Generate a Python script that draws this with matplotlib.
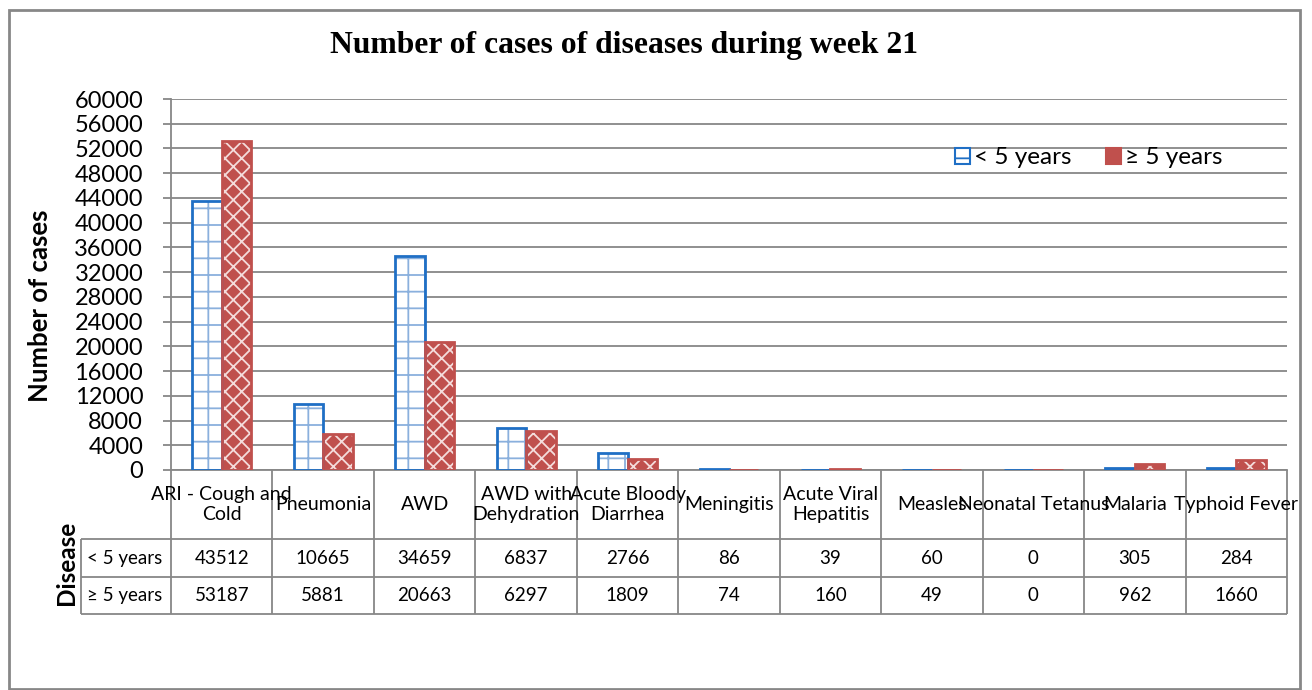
import matplotlib
matplotlib.use('Agg')
import matplotlib.pyplot as plt
import numpy as np
from matplotlib.patches import Patch, Rectangle

categories = ["ARI - Cough and\nCold", "Pneumonia", "AWD", "AWD with\nDehydration",
              "Acute Bloody\nDiarrhea", "Meningitis", "Acute Viral\nHepatitis",
              "Measles", "Neonatal Tetanus", "Malaria", "Typhoid Fever"]
under5 = [43512, 10665, 34659, 6837, 2766, 86, 39, 60, 0, 305, 284]
over5 = [53187, 5881, 20663, 6297, 1809, 74, 160, 49, 0, 962, 1660]
series_names = ["< 5 years", "≥ 5 years"]
yticks = list(range(0, 60001, 4000))
title = "Number of cases of diseases during week 21"

plt.rcParams['font.family'] = ['Lato', 'DejaVu Sans']
plt.rcParams['hatch.linewidth'] = 1.3

W, H = 1312, 690
fig = plt.figure(figsize=(W / 100, H / 100), dpi=100)
fig.patch.set_facecolor('white')


def fx(px):
    return px / W


def fy(py):
    return 1 - py / H


GRAY = '#878787'
BLUE = '#1F6FC5'
BLUE_H = '#8AB0DD'
RED = '#C0504D'

# outer frame
fig.add_artist(Rectangle((fx(9), fy(689)), fx(1300 - 9), (689 - 10) / H,
                         transform=fig.transFigure, fill=False,
                         edgecolor=GRAY, linewidth=2))

L, R, T, B = 171, 1287, 99, 470
ax = fig.add_axes([fx(L), fy(B), fx(R - L), (B - T) / H])
x = np.arange(len(categories))
bw = 0.29

ax.bar(x - bw / 2, under5, bw, color='white', edgecolor=BLUE_H, hatch='+',
       linewidth=0, zorder=2)
ax.bar(x - bw / 2, under5, bw, fill=False, edgecolor=BLUE, linewidth=2, zorder=3)
ax.bar(x + bw / 2, over5, bw, color=RED, edgecolor='#F4DCDB', hatch='xx',
       linewidth=0, zorder=2)
ax.bar(x + bw / 2, over5, bw, fill=False, edgecolor=RED, linewidth=2, zorder=3)

ax.set_xlim(-0.5, len(categories) - 0.5)
ax.set_ylim(0, 60000)
ax.set_yticks(yticks)
ax.set_yticklabels([str(v) for v in yticks], fontsize=17)
ax.set_xticks([])
ax.yaxis.grid(True, color=GRAY, linewidth=1.3, zorder=0)
ax.set_axisbelow(True)
for s in ['top', 'right']:
    ax.spines[s].set_visible(False)
for s in ['left', 'bottom']:
    ax.spines[s].set_color(GRAY)
    ax.spines[s].set_linewidth(1.3)
ax.tick_params(axis='y', length=6, width=1.3, color=GRAY, pad=14)

# legend
h1 = Patch(facecolor='white', edgecolor=BLUE, hatch='-', linewidth=1.5)
h2 = Patch(facecolor=RED, edgecolor='white', hatch='..', linewidth=1.5)
leg = fig.legend([h1, h2], series_names, loc='center',
                 bbox_to_anchor=(fx(1089), fy(158)), ncol=2, frameon=False,
                 fontsize=17.5, handlelength=0.6, handleheight=0.6,
                 handletextpad=0.2, columnspacing=1.4)
leg.legend_handles[0].set_edgecolor(BLUE)
leg.legend_handles[1].set_edgecolor(RED)

# title and labels
fig.text(fx(624), fy(46), title, ha='center', va='center', fontsize=22.8,
         fontweight='bold', family='Liberation Serif')
fig.text(fx(40), fy(306), "Number of cases", rotation=90, ha='center',
         va='center', fontsize=18.5, fontweight='bold')
fig.text(fx(66), fy(563), "Disease", rotation=90, ha='center', va='center',
         fontsize=17.5, fontweight='bold')

# data table
TL, TB = 81, 614
R1, R2 = 539, 577
tax = fig.add_axes([fx(TL), fy(TB), fx(R - TL), (TB - B) / H])
cw = (R - L) / len(categories)
xl = -0.5 - (L - TL) / cw
xr = len(categories) - 0.5
tax.set_xlim(xl, xr)
tax.set_ylim(TB, B)
tax.axis('off')
lk = dict(color=GRAY, linewidth=1.3, clip_on=False, solid_capstyle='butt')
for k in range(len(categories) + 1):
    tax.plot([k - 0.5, k - 0.5], [B, TB], **lk)
tax.plot([xl, xl], [R1, TB], **lk)
for yy in (R1, R2, TB):
    tax.plot([xl, xr], [yy, yy], **lk)

fs = 13.5
for i, c in enumerate(categories):
    tax.text(i, (B + R1) / 2 + 0, c, ha='center', va='center', fontsize=14,
             linespacing=1.2)
    tax.text(i, (R1 + R2) / 2, str(under5[i]), ha='center', va='center', fontsize=fs)
    tax.text(i, (R2 + TB) / 2, str(over5[i]), ha='center', va='center', fontsize=fs)
tax.text(xl + 0.06, (R1 + R2) / 2, series_names[0], ha='left', va='center', fontsize=fs)
tax.text(xl + 0.06, (R2 + TB) / 2, series_names[1], ha='left', va='center', fontsize=fs)

fig.savefig('out.png', dpi=100)
